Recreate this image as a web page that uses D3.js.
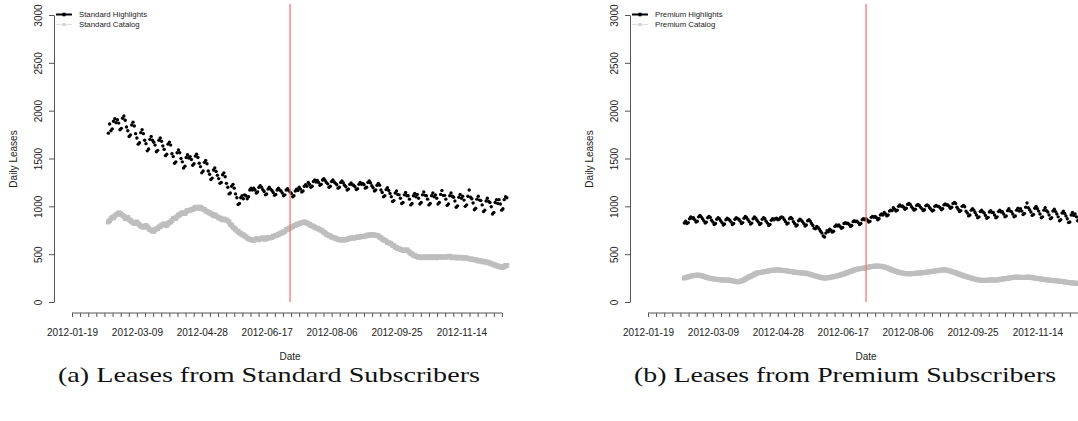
<!DOCTYPE html>
<html>
<head>
<meta charset="utf-8">
<script src="https://cdn.jsdelivr.net/npm/d3@7"></script>
<style>
  body { margin:0; background:#fff; }
  svg { display:block; }
  text { font-family: "Liberation Sans", Arial, sans-serif; fill:#222; }
  .caption { font-family: "Liberation Serif", "DejaVu Serif", serif; fill:#111; }
</style>
</head>
<body>
<script>
// daily series, first value = 2012-02-16
var firstDay = "2012-02-16";
var eventDay = "2012-07-05";
var tickLabels = ["2012-01-19", "2012-03-09", "2012-04-28", "2012-06-17", "2012-08-06", "2012-09-25", "2012-11-14"];
var yTicks = [0, 500, 1000, 1500, 2000, 2500, 3000];

var stdHighlights = [
  1765,1860,1790,1810,1890,1915,1875, 1905,1870,1800,1815,1920,1945,1900,
  1830,1790,1730,1745,1850,1880,1840, 1760,1715,1650,1665,1770,1800,1760,
  1690,1655,1580,1600,1700,1730,1690, 1670,1640,1570,1585,1690,1715,1680,
  1630,1595,1530,1545,1650,1670,1640, 1550,1520,1450,1465,1560,1590,1560,
  1500,1465,1400,1420,1510,1540,1505, 1520,1490,1430,1445,1525,1545,1510,
  1450,1415,1350,1370,1460,1480,1445, 1370,1335,1280,1295,1380,1400,1365,
  1325,1290,1240,1250,1330,1350,1310, 1240,1200,1130,1140,1210,1230,1190,
  1130,1090,1020,1030,1090,1110,1080, 1120,1110,1080,1100,1170,1190,1170,
  1190,1170,1140,1150,1200,1215,1200, 1175,1155,1120,1130,1180,1200,1180,
  1165,1145,1115,1125,1170,1190,1170, 1160,1140,1110,1120,1170,1185,1165,
  1150,1135,1100,1110,1160,1180,1165, 1200,1180,1150,1160,1210,1225,1210,
  1250,1230,1200,1210,1260,1275,1255, 1270,1250,1220,1230,1275,1290,1270,
  1250,1235,1200,1210,1260,1275,1255, 1240,1225,1190,1200,1250,1265,1245,
  1220,1205,1170,1180,1230,1245,1225, 1220,1205,1175,1185,1230,1250,1230,
  1240,1225,1190,1200,1250,1265,1245, 1215,1195,1160,1170,1220,1240,1220,
  1170,1145,1100,1110,1175,1195,1165, 1135,1100,1050,1060,1140,1160,1125,
  1120,1085,1030,1040,1120,1145,1110, 1110,1075,1015,1030,1110,1135,1100,
  1125,1085,1025,1040,1120,1150,1115, 1110,1075,1015,1030,1110,1140,1100,
  1120,1085,1025,1040,1125,1165,1115, 1115,1075,1010,1025,1110,1140,1105,
  1095,1055,990,1005,1095,1125,1085,  1105,1065,1000,1015,1105,1170,1095,
  1080,1035,965,980,1075,1105,1065,   1060,1015,945,960,1055,1085,1050,
  1040,995,920,935,1040,1070,1030,    1070,1025,960,975,1070,1100,1090
];
var stdCatalog = [
  836,852,870,885,880,900,912, 918,932,925,915,905,895,872,
  870,884,862,852,838,832,820, 828,838,818,806,792,792,780,
  788,800,786,772,756,752,742, 738,756,764,768,784,788,804,
  808,818,806,798,818,832,838, 852,872,878,874,892,908,912,
  924,934,928,924,944,958,956, 958,968,966,978,988,992,978,
  988,992,978,970,968,952,946, 938,932,922,918,902,912,898,
  892,878,878,868,858,868,858, 858,848,836,812,802,782,772,
  758,742,738,722,718,702,702, 688,682,668,662,652,652,645,
  645,652,662,652,650,662,664, 672,658,656,666,676,668,672,
  674,688,688,698,698,708,712, 722,722,732,738,758,758,772,
  772,782,788,798,798,812,812, 822,822,832,832,838,828,826,
  818,812,798,798,788,782,772, 772,762,758,748,742,728,722,
  708,702,692,692,678,676,668, 668,658,656,648,652,646,652,
  646,652,652,662,662,672,668, 666,672,672,682,674,682,684,
  682,684,692,692,702,696,704, 698,706,696,698,698,692,678,
  672,658,652,642,638,622,620, 614,608,592,588,572,572,558,
  558,548,548,538,538,542,546, 532,522,508,502,488,488,476,
  478,468,470,462,472,470,470, 462,472,472,472,462,472,470,
  472,462,472,472,472,466,472, 470,470,468,478,478,472,462,
  470,468,468,458,468,468,464, 456,462,462,462,452,452,450,
  450,442,442,440,438,428,434, 426,428,418,424,416,418,408,
  408,398,398,388,388,378,378, 368,370,362,364,368,382,382
];
var premHighlights = [
  826,845,820,830,870,890,875, 880,860,835,845,890,905,890,
  870,850,825,835,880,895,885, 855,835,810,820,865,880,870,
  850,830,805,815,860,875,865, 855,835,810,820,865,880,870,
  865,845,820,830,875,895,880, 860,840,815,825,870,890,875,
  855,835,810,820,865,880,870, 845,825,800,810,855,870,860,
  870,875,860,865,880,888,880, 860,840,815,825,870,885,870,
  840,820,795,805,850,865,855, 840,820,795,805,850,860,845,
  820,800,770,765,790,780,760, 740,720,690,680,720,745,735,
  760,750,730,740,790,805,795, 805,790,770,780,820,830,820,
  825,810,790,800,840,850,840, 845,830,810,820,860,870,860,
  870,855,835,845,885,895,885, 895,880,860,870,910,920,910,
  935,920,900,910,950,960,955, 985,970,950,960,1000,1014,1000,
  1005,990,970,980,1020,1030,1020, 995,980,960,970,1010,1020,1010,
  990,975,955,965,1005,1015,1005, 985,970,950,960,1000,1010,1000,
  1000,985,965,975,1015,1025,1015, 1015,1000,980,990,1030,1040,1030,
  990,970,945,955,1000,1010,995, 950,930,900,910,960,975,960,
  935,910,880,890,945,960,940, 930,905,875,885,940,955,935,
  935,910,880,890,945,960,940, 945,920,890,900,955,975,950,
  945,920,890,900,960,980,950, 975,950,915,925,990,1035,985,
  965,940,905,915,980,1000,975, 950,920,880,890,960,985,955,
  940,910,870,880,950,970,945, 920,890,850,860,930,950,925,
  900,870,830,836,910,935,905, 920,890,850,860,930,955,930
];
var premCatalog = [
  250,256,258,264,264,271,272, 276,279,279,283,280,279,274,
  273,267,263,257,256,249,249, 244,243,239,239,235,236,232,
  233,229,232,229,229,229,231, 227,226,221,219,214,213,209,
  213,214,221,224,233,239,249, 254,263,267,276,281,291,295,
  304,304,309,309,313,314,319, 319,323,324,329,329,333,332,
  335,334,336,333,334,331,331, 327,327,324,323,319,319,315,
  316,311,311,307,307,304,305, 302,303,302,301,295,293,287,
  285,279,277,271,269,264,263, 257,256,251,251,249,253,254,
  259,259,263,264,269,269,276, 277,283,285,291,294,301,304,
  311,314,321,324,331,334,341, 342,347,347,351,351,355,354,
  359,361,366,367,371,371,375, 374,377,375,376,373,373,369,
  367,361,359,351,347,339,336, 329,326,319,317,311,309,304,
  304,299,299,295,296,293,296, 295,298,297,301,301,304,302,
  305,304,307,307,311,311,315, 315,319,319,323,323,327,327,
  331,331,335,334,337,334,334, 329,327,321,319,313,311,304,
  301,294,291,284,281,274,271, 265,263,257,255,249,247,241,
  239,234,233,229,229,226,227, 224,227,227,230,228,231,230,
  231,228,229,229,233,234,239, 239,243,243,247,247,251,251,
  255,255,259,258,261,259,260, 257,258,255,258,257,261,259,
  260,256,256,251,251,247,247, 243,243,239,239,235,235,231,
  231,228,229,225,226,223,223, 219,220,217,217,213,213,209,
  209,205,205,201,201,198,199, 196,197,195,196,193,196,195
];

var panels = [
  {dx: 0,   hi: stdHighlights,  cat: stdCatalog,  names: ["Standard Highlights", "Standard Catalog"],
   caption: "(a) Leases from Standard Subscribers"},
  {dx: 576, hi: premHighlights, cat: premCatalog, names: ["Premium Highlights", "Premium Catalog"],
   caption: "(b) Leases from Premium Subscribers"}
];

var W = 1078, H = 421;
var parse = d3.timeParse("%Y-%m-%d");
var start = parse(firstDay);
var axisStart = parse(tickLabels[0]), axisEnd = parse("2012-12-19");
var pxPerDay = 1.298;

var svg = d3.select("body").append("svg").attr("width", W).attr("height", H);

var y = d3.scaleLinear().domain([0, 3000]).range([302, 15]);

panels.forEach(function(p) {
  var g = svg.append("g").attr("transform", "translate(" + p.dx + ",0)");
  var x = d3.scaleTime().domain([axisStart, axisEnd])
      .range([72, 72 + pxPerDay * d3.timeDay.count(axisStart, axisEnd)]);

  // y axis
  var yAx = g.append("g").attr("transform", "translate(54,0)")
      .call(d3.axisLeft(y).tickValues(yTicks).tickFormat(d3.format("d"))
        .tickSize(5).tickSizeOuter(0));
  yAx.select(".domain").attr("stroke", "#555");
  yAx.selectAll(".tick line").attr("stroke", "#555");
  yAx.selectAll(".tick text")
      .attr("transform", "rotate(-90)")
      .attr("x", 0).attr("y", -12.5).attr("dy", 0)
      .attr("text-anchor", "middle")
      .style("font-size", "10px").attr("fill", "#333");

  // x axis: minor ticks 8 per labelled step
  var minor = d3.range(0, 54).map(function(i) { return d3.timeHour.offset(axisStart, i * 150); });
  var labelSet = {};
  tickLabels.forEach(function(s) { labelSet[s] = true; });
  var fmt = d3.timeFormat("%Y-%m-%d");
  var xAx = g.append("g").attr("transform", "translate(0,313)")
      .call(d3.axisBottom(x).tickValues(minor).tickSize(4).tickSizeOuter(0)
        .tickFormat(function(d) { return labelSet[fmt(d)] ? fmt(d) : ""; }));
  xAx.select(".domain").remove();
  xAx.append("line").attr("x1", x(minor[0])).attr("x2", x(minor[minor.length - 1]))
      .attr("stroke", "#555");
  xAx.selectAll(".tick line").attr("stroke", "#555");
  xAx.selectAll(".tick text").attr("y", 19).attr("dy", "0.35em")
      .style("font-size", "10px").attr("fill", "#333");

  // axis titles
  g.append("text").attr("transform", "translate(16.5,159) rotate(-90)")
      .attr("text-anchor", "middle").style("font-size", "10px").text("Daily Leases");
  g.append("text").attr("x", x(parse(eventDay))).attr("y", 360)
      .attr("text-anchor", "middle").style("font-size", "10px").text("Date");

  // catalog as thick gray squares
  g.selectAll(".cat").data(p.cat).enter().append("rect")
      .attr("x", function(d, i) { return x(d3.timeDay.offset(start, i)) - 2.4; })
      .attr("y", function(d) { return y(d) - 2.4; })
      .attr("width", 4.8).attr("height", 4.8)
      .attr("fill", "#bebebe");

  // highlights as black dots
  g.selectAll(".hi").data(p.hi).enter().append("circle")
      .attr("cx", function(d, i) { return x(d3.timeDay.offset(start, i)); })
      .attr("cy", function(d) { return y(d); })
      .attr("r", 1.7).attr("fill", "#000");

  // event line
  g.append("line")
      .attr("x1", x(parse(eventDay))).attr("x2", x(parse(eventDay)))
      .attr("y1", 4).attr("y2", 302)
      .attr("stroke", "#ff6b6b").attr("stroke-width", 1.2);

  // legend
  var lg = g.append("g");
  lg.append("line").attr("x1", 56).attr("x2", 72).attr("y1", 14.5).attr("y2", 14.5)
      .attr("stroke", "#000").attr("stroke-width", 2);
  lg.append("circle").attr("cx", 64).attr("cy", 14.5).attr("r", 2).attr("fill", "#000");
  lg.append("line").attr("x1", 56).attr("x2", 72).attr("y1", 24.5).attr("y2", 24.5)
      .attr("stroke", "#e0e0e0").attr("stroke-width", 1);
  lg.append("rect").attr("x", 62.5).attr("y", 23).attr("width", 3).attr("height", 3).attr("fill", "#cfcfcf");
  lg.selectAll(".lt").data(p.names).enter().append("text")
      .attr("x", 79).attr("y", function(d, i) { return 17.3 + i * 10; })
      .style("font-size", "7.8px").text(function(d) { return d; });

  // caption
  g.append("text").attr("class", "caption")
      .attr("x", 269).attr("y", 382).attr("text-anchor", "middle")
      .attr("textLength", 422).attr("lengthAdjust", "spacingAndGlyphs")
      .style("font-size", "21px").text(p.caption);
});
</script>
</body>
</html>
